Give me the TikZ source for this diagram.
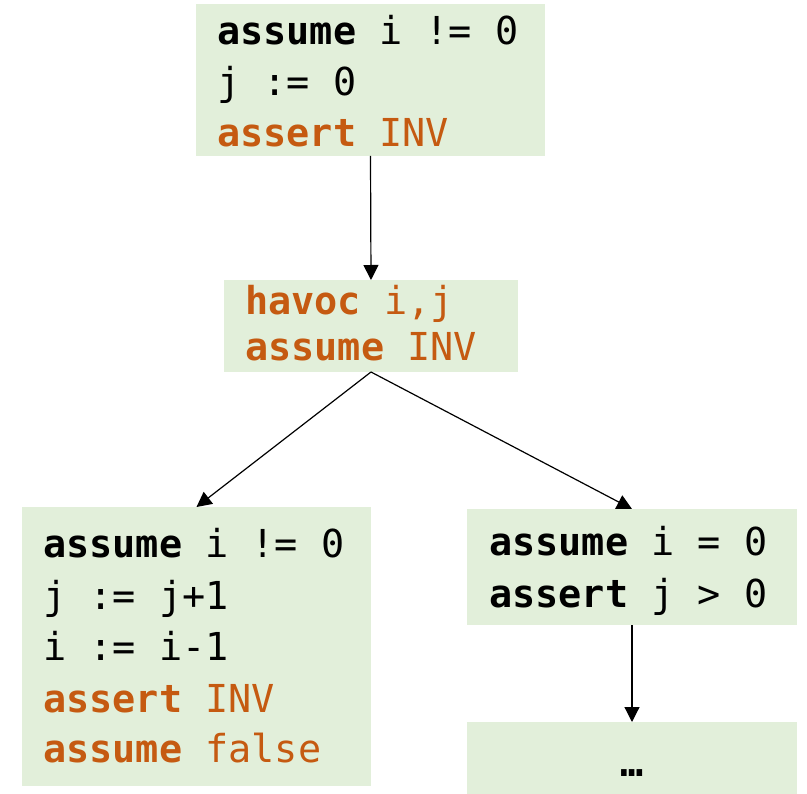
\documentclass[tikz,border=0pt]{standalone}
\usepackage{fontspec}
\setmonofont{DejaVu Sans Mono}
\usetikzlibrary{arrows.meta}
\definecolor{boxgreen}{HTML}{E2EFDA}
\definecolor{kwbrown}{HTML}{C55A11}
\begin{document}
\begin{tikzpicture}[x=1pt,y=-1pt,
  block/.style={fill=boxgreen, draw=none, inner sep=0pt, outer sep=0pt, anchor=north west},
  code/.style={anchor=base west, inner sep=0pt, font=\ttfamily\fontsize{38.5}{46}\selectfont},
  kw/.style={text=kwbrown},
  flow/.style={draw=black, line width=1.2pt, -{Triangle[length=15pt,width=15pt]}}]
  \useasboundingbox (0,0) rectangle (807,794);

  % basic blocks
  \node[block, minimum width=349pt, minimum height=152pt] (b1) at (196,4) {};
  \node[block, minimum width=294pt, minimum height=92pt]  (b2) at (224,280) {};
  \node[block, minimum width=349pt, minimum height=279pt] (b3) at (22,507) {};
  \node[block, minimum width=330pt, minimum height=116pt] (b4) at (467,509) {};
  \node[block, minimum width=330pt, minimum height=72pt]  (b5) at (467,722) {};

  % entry block
  \node[code] (t1a) at (217,45)  {\textbf{assume} i != 0};
  \node[code] (t1b) at (217,96)  {j := 0};
  \node[code, kw] (t1c) at (217,147) {\textbf{assert} INV};

  % loop head
  \node[code, kw] (t2a) at (245,315) {\textbf{havoc} i,j};
  \node[code, kw] (t2b) at (245,361) {\textbf{assume} INV};

  % loop body
  \node[code] (t3a) at (43,558) {\textbf{assume} i != 0};
  \node[code] (t3b) at (43,609) {j := j+1};
  \node[code] (t3c) at (43,660) {i := i-1};
  \node[code, kw] (t3d) at (43,712) {\textbf{assert} INV};
  \node[code, kw] (t3e) at (43,762) {\textbf{assume} false};

  % loop exit
  \node[code] (t4a) at (489,555) {\textbf{assume} i = 0};
  \node[code] (t4b) at (489,607) {\textbf{assert} j > 0};

  % continuation
  \node[code, anchor=base] (t5) at (632,776) {\textbf{…}};

  % control flow edges
  \draw[flow] (b1.south) -- (b2.north);
  \draw[flow] (b2.south) -- (b3.north);
  \draw[flow] (b2.south) -- (b4.north);
  \draw[flow] (b4.south) -- (b5.north);
\end{tikzpicture}
\end{document}
